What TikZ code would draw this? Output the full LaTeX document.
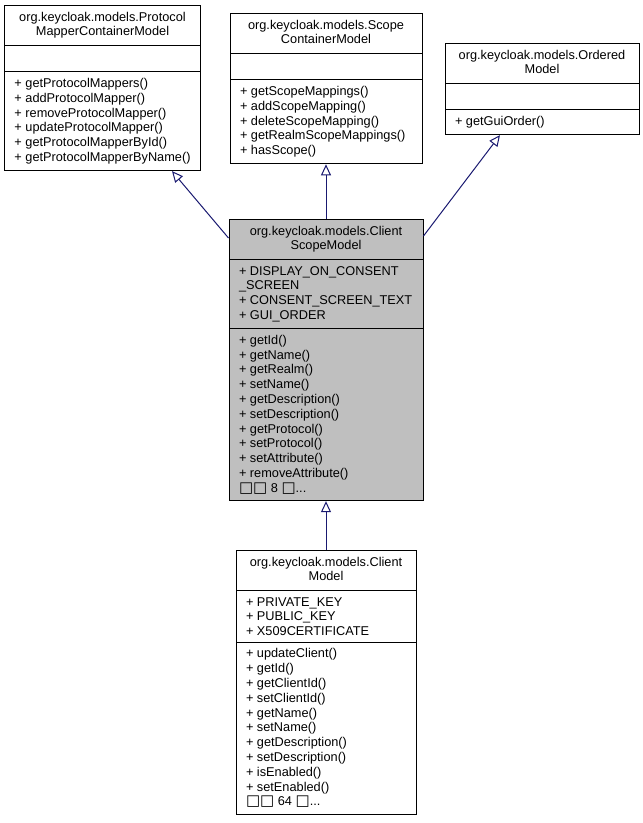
\documentclass[tikz,border=0pt]{standalone}
\usepackage{fontspec}
\setmainfont{Liberation Sans}
\newfontfamily\tofufont{DejaVu Sans}
\usetikzlibrary{arrows.meta,positioning,shapes.multipart}
\definecolor{edgeblue}{HTML}{191970}
\definecolor{focusgray}{HTML}{BFBFBF}
\newcommand{\classname}[2]{{\renewcommand{\arraystretch}{0.92}\begin{tabular}{@{}c@{}}#1\\#2\end{tabular}}}
\newcommand{\tofu}{{\tofufont\fontsize{15}{14.8}\selectfont\char"25A1}}
\tikzset{
  umlclass/.style={
    rectangle split,rectangle split parts=3,draw,line width=1pt,
    rectangle split part align={center,left,left},align=left,anchor=north,
    inner xsep=10pt,inner ysep=6pt,font=\fontsize{12.75}{14.8}\selectfont
  },
  focus/.style={fill=focusgray},
  inherit/.style={
    every edge/.style={draw=edgeblue,line width=1pt,-{Triangle[open,length=11pt,width=10pt]}}
  }
}
\begin{document}
\begin{tikzpicture}[x=1pt,y=-1pt]
  \useasboundingbox (0,0) rectangle (643,823);

  \node[umlclass,minimum width=195pt] (pmcm) at (102.5,5) {\classname{org.keycloak.models.Protocol}{MapperContainerModel}
    \nodepart{two}\rule{0pt}{13pt}
    \nodepart{three}+ getProtocolMappers()\\+ addProtocolMapper()\\+ removeProtocolMapper()\\+ updateProtocolMapper()\\+ getProtocolMapperById()\\+ getProtocolMapperByName()};
  \node[umlclass,minimum width=192pt] (scm) at (326,13) {\classname{org.keycloak.models.Scope}{ContainerModel}
    \nodepart{two}\rule{0pt}{13pt}
    \nodepart{three}+ getScopeMappings()\\+ addScopeMapping()\\+ deleteScopeMapping()\\+ getRealmScopeMappings()\\+ hasScope()};
  \node[umlclass,minimum width=194pt] (om) at (542,43) {\classname{org.keycloak.models.Ordered}{Model}
    \nodepart{two}\rule{0pt}{13pt}
    \nodepart{three}+ getGuiOrder()};

  \node[umlclass,focus,minimum width=194pt] (csm) at (326,219) {\classname{org.keycloak.models.Client}{ScopeModel}
    \nodepart{two}+ DISPLAY\_ON\_CONSENT\\\_SCREEN\\+ CONSENT\_SCREEN\_TEXT\\+ GUI\_ORDER
    \nodepart{three}+ getId()\\+ getName()\\+ getRealm()\\+ setName()\\+ getDescription()\\+ setDescription()\\+ getProtocol()\\+ setProtocol()\\+ setAttribute()\\+ removeAttribute()\\\tofu\tofu{} 8 \tofu...};

  \node[umlclass,minimum width=180pt] (cm) at (326,550) {\classname{org.keycloak.models.Client}{Model}
    \nodepart{two}+ PRIVATE\_KEY\\+ PUBLIC\_KEY\\+ X509CERTIFICATE
    \nodepart{three}+ updateClient()\\+ getId()\\+ getClientId()\\+ setClientId()\\+ getName()\\+ setName()\\+ getDescription()\\+ setDescription()\\+ isEnabled()\\+ setEnabled()\\\tofu\tofu{} 64 \tofu...};

  \path[inherit]
    ([yshift=-19pt]csm.north west) edge ([xshift=69.5pt]pmcm.south)
    (csm.north) edge (scm.south)
    ([yshift=-17pt]csm.north east) edge ([xshift=-42pt]om.south)
    (cm.north) edge (csm.south)
    ;
\end{tikzpicture}
\end{document}
